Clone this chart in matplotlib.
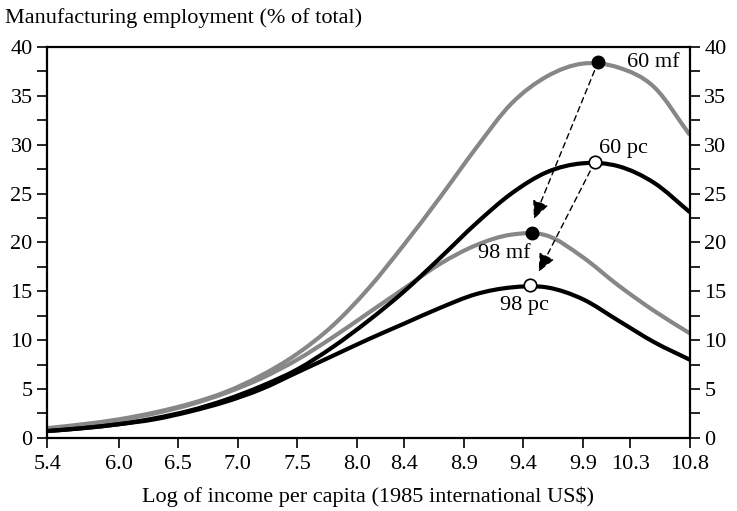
import numpy as np
import matplotlib
matplotlib.use("Agg")
import matplotlib.pyplot as plt
from matplotlib.path import Path
from matplotlib.patches import PathPatch
from matplotlib.ticker import MultipleLocator

plt.rcParams["font.family"] = ["Liberation Serif", "DejaVu Serif"]

# log income grid and curves
log_income = [5.4, 5.7, 6.0, 6.3, 6.6, 6.9, 7.2, 7.5, 7.8, 8.1,
              8.4, 8.7, 9.0, 9.3, 9.6, 9.9, 10.2, 10.5, 10.8]
mf_60 = [1.0, 1.4, 1.9, 2.6, 3.5, 4.7, 6.4, 8.6, 11.5, 15.3,
         19.8, 24.6, 29.6, 34.2, 37.0, 38.3, 37.9, 35.9, 31.0]
mf_98 = [0.9, 1.3, 1.8, 2.5, 3.4, 4.6, 6.1, 8.0, 10.3, 12.8,
         15.3, 17.8, 19.7, 20.8, 20.7, 18.5, 15.6, 13.0, 10.7]
pc_60 = [0.7, 1.0, 1.4, 2.0, 2.8, 3.9, 5.3, 7.0, 9.3, 12.0,
         15.0, 18.4, 21.9, 25.0, 27.2, 28.1, 27.8, 26.1, 23.1]
pc_98 = [0.7, 1.0, 1.4, 1.9, 2.7, 3.7, 5.0, 6.7, 8.4, 10.1,
         11.7, 13.3, 14.7, 15.4, 15.4, 14.2, 12.0, 9.8, 8.0]

# peaks (x, y)
peak_mf60 = (10.03, 38.5)
peak_pc60 = (10.0, 28.2)
peak_mf98 = (9.47, 21.0)
peak_pc98 = (9.46, 15.6)

xticks = [5.4, 6.0, 6.5, 7.0, 7.5, 8.0, 8.4, 8.9, 9.4, 9.9, 10.3, 10.8]
yticks = [0, 5, 10, 15, 20, 25, 30, 35, 40]

GRAY = "#878787"


def smooth_curve(ax, xs, ys, **kw):
    # draw through the points with cubic bezier segments (catmull-rom)
    p = np.column_stack([xs, ys]).astype(float)
    p = np.vstack([2 * p[0] - p[1], p, 2 * p[-1] - p[-2]])
    verts = [tuple(p[1])]
    codes = [Path.MOVETO]
    for i in range(1, len(p) - 2):
        c1 = p[i] + (p[i + 1] - p[i - 1]) / 6
        c2 = p[i + 1] - (p[i + 2] - p[i]) / 6
        verts += [tuple(c1), tuple(c2), tuple(p[i + 1])]
        codes += [Path.CURVE4] * 3
    ax.add_patch(PathPatch(Path(verts, codes), fill=False, capstyle="butt",
                           joinstyle="round", **kw))


fig = plt.figure(figsize=(7.37, 5.11), dpi=100)
ax = fig.add_axes([0.064, 0.143, 0.872, 0.765])

smooth_curve(ax, log_income, mf_60, edgecolor=GRAY, lw=3)
smooth_curve(ax, log_income, mf_98, edgecolor=GRAY, lw=3)
smooth_curve(ax, log_income, pc_60, edgecolor="black", lw=3)
smooth_curve(ax, log_income, pc_98, edgecolor="black", lw=3)

# arrows from 1960 peaks to 1998 peaks
arrow = dict(arrowstyle="-|>,head_length=1.1,head_width=0.5", color="black",
             lw=1, ls=(0, (4, 3)), shrinkA=7, shrinkB=0)
ax.annotate("", xy=(9.49, 22.4), xytext=peak_mf60, arrowprops=arrow)
ax.annotate("", xy=(9.53, 17.0), xytext=peak_pc60, arrowprops=arrow)

ax.plot(*peak_mf60, "o", ms=9, mfc="black", mec="black", zorder=5)
ax.plot(*peak_mf98, "o", ms=9, mfc="black", mec="black", zorder=5)
ax.plot(*peak_pc60, "o", ms=9, mfc="white", mec="black", mew=1.2, zorder=5)
ax.plot(*peak_pc98, "o", ms=9, mfc="white", mec="black", mew=1.2, zorder=5)

fs = 16
ax.text(10.27, 38.4, "60 mf", fontsize=fs, ha="left", va="center")
ax.text(10.04, 29.6, "60 pc", fontsize=fs, ha="left", va="center")
ax.text(9.24, 18.9, "98 mf", fontsize=fs, ha="center", va="center")
ax.text(9.41, 13.6, "98 pc", fontsize=fs, ha="center", va="center")

ax.set_xlim(5.4, 10.8)
ax.set_ylim(0, 40)
ax.set_xticks(xticks)
ax.set_xticklabels([f"{v:.1f}" for v in xticks])
ax.set_yticks(yticks)
ax.yaxis.set_minor_locator(MultipleLocator(2.5))
ax.tick_params(axis="both", which="both", direction="out", labelsize=fs,
               width=1.2, length=7, left=True, right=True,
               labelleft=True, labelright=True, top=False)
ax.tick_params(axis="x", pad=5)
for s in ax.spines.values():
    s.set_linewidth(1.6)

ax.set_xlabel("Log of income per capita (1985 international US$)",
              fontsize=fs, labelpad=9)
fig.text(0.007, 0.965, "Manufacturing employment (% of total)",
         fontsize=fs, ha="left", va="center")

fig.savefig("out.png", dpi=100, facecolor="white")
